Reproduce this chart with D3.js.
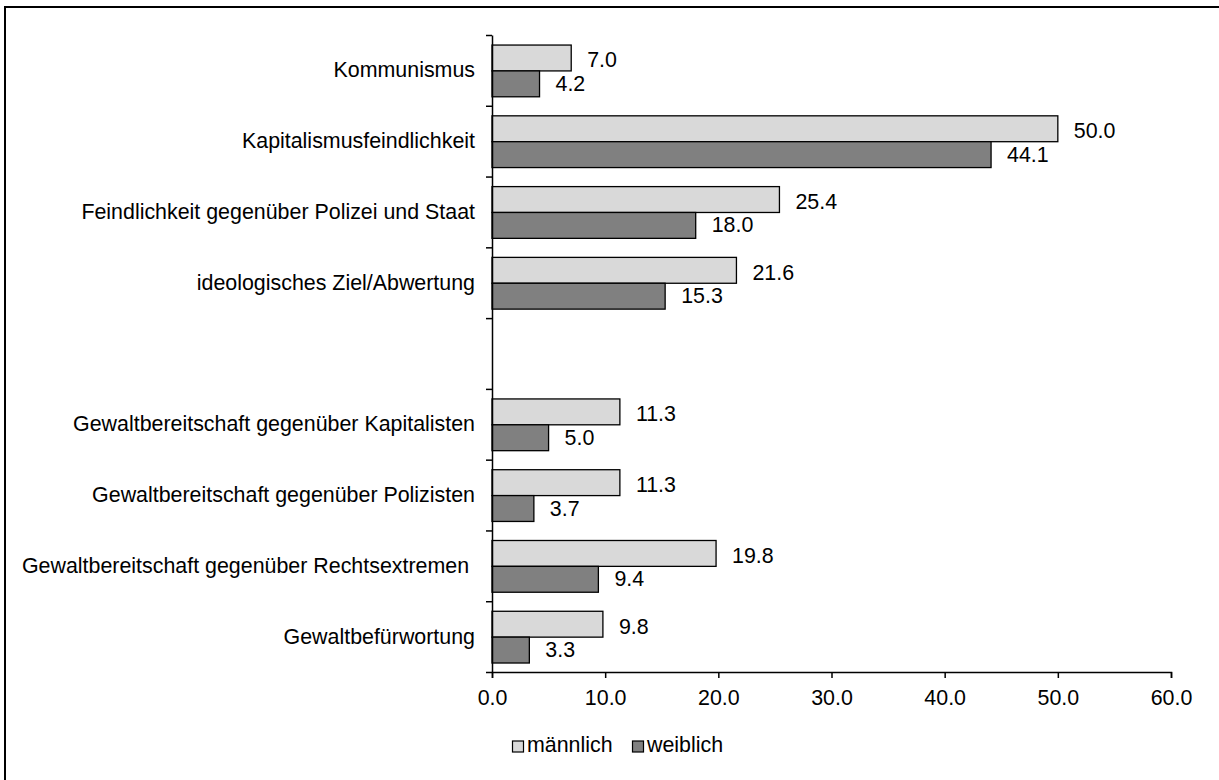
<!DOCTYPE html>
<html><head><meta charset="utf-8">
<script src="https://cdn.jsdelivr.net/npm/d3@7"></script>
<style>
html,body{margin:0;padding:0;background:#fff;}
svg{display:block;font-family:Arial,"Liberation Sans",sans-serif;}
</style></head>
<body>
<svg id="chart" width="1219" height="780"></svg>
<script>
const categories = ["Kommunismus","Kapitalismusfeindlichkeit","Feindlichkeit gegenüber Polizei und Staat","ideologisches Ziel/Abwertung","","Gewaltbereitschaft gegenüber Kapitalisten","Gewaltbereitschaft gegenüber Polizisten","Gewaltbereitschaft gegenüber Rechtsextremen ","Gewaltbefürwortung"];
const maleValues = [7.0, 50.0, 25.4, 21.6, null, 11.3, 11.3, 19.8, 9.8];
const femaleValues = [4.2, 44.1, 18.0, 15.3, null, 5.0, 3.7, 9.4, 3.3];
const seriesNames = ["männlich","weiblich"];
const xTicks = [0,10,20,30,40,50,60];

const FS = 21.4;
const svg = d3.select("#chart");
const colors = {"männlich":"#d9d9d9","weiblich":"#808080"};

// outer frame (extends past the picture right and bottom)
svg.append("rect").attr("x",5).attr("y",7).attr("width",1240).attr("height",800)
  .attr("fill","none").attr("stroke","#000").attr("stroke-width",2);

const x0 = 492, x1 = 1171, yTop = 35, yBot = 672;
const x = d3.scaleLinear().domain([0,60]).range([x0,x1]);
const y = d3.scaleBand().domain(categories.map((c,i)=>i)).range([yTop,yBot]).padding(0);
const bw = y.bandwidth();
const sub = d3.scaleBand().domain(seriesNames).range([bw*0.142, bw*0.873]).padding(0);

const data = categories.map((c,i)=>({cat:c,i, vals:[{s:"männlich",v:maleValues[i]},{s:"weiblich",v:femaleValues[i]}]}));

const g = svg.append("g");
const groups = g.selectAll("g.cat").data(data).join("g").attr("class","cat")
  .attr("transform",d=>`translate(0,${y(d.i)})`);

groups.selectAll("rect").data(d=>d.vals.filter(e=>e.v!=null)).join("rect")
  .attr("x",x(0)).attr("y",d=>sub(d.s)).attr("width",d=>x(d.v)-x(0))
  .attr("height",sub.bandwidth()).attr("fill",d=>colors[d.s])
  .attr("stroke","#000").attr("stroke-width",1.3);

groups.selectAll("text.val").data(d=>d.vals.filter(e=>e.v!=null)).join("text").attr("class","val")
  .attr("x",d=>x(d.v)+16).attr("y",d=>sub(d.s)+sub.bandwidth()/2 + (d.s==="männlich"?2.5:0))
  .attr("dominant-baseline","central").attr("font-size",FS).attr("fill","#000")
  .text(d=>d3.format(".1f")(d.v));

groups.append("text").attr("x",475).attr("y",bw/2).attr("text-anchor","end")
  .attr("dominant-baseline","central").attr("font-size",FS).style("white-space","pre")
  .text(d=>d.cat);

// x axis
const xAxis = d3.axisBottom(x).tickValues(xTicks).tickSize(6).tickSizeOuter(6).tickFormat(d3.format(".1f"));
const xg = svg.append("g").attr("transform",`translate(0,${yBot})`).call(xAxis);
xg.select(".domain").attr("stroke","#000").attr("stroke-width",1.5);
xg.selectAll(".tick line").attr("stroke","#000").attr("stroke-width",1.5);
xg.selectAll(".tick text").attr("font-size",FS).attr("font-family","Arial,'Liberation Sans',sans-serif")
  .attr("fill","#000").attr("y",33).attr("dy","0");

// y axis with ticks at category boundaries
const yb = d3.scaleLinear().domain([0,categories.length]).range([yTop,yBot]);
const yAxis = d3.axisLeft(yb).ticks(categories.length).tickSize(6).tickSizeOuter(0).tickFormat("");
const yg = svg.append("g").attr("transform",`translate(${x0},0)`).call(yAxis);
yg.select(".domain").attr("stroke","#000").attr("stroke-width",1.5);
yg.selectAll(".tick line").attr("stroke","#000").attr("stroke-width",1.5);

// legend
const legend = svg.append("g").attr("transform","translate(512,752)");
const items = [{s:"männlich",x:0},{s:"weiblich",x:120}];
items.forEach(it=>{
  legend.append("rect").attr("x",it.x+0.5).attr("y",-11).attr("width",11).attr("height",11)
    .attr("fill",colors[it.s]).attr("stroke","#000").attr("stroke-width",1.2);
  legend.append("text").attr("x",it.x+15).attr("y",0)
    .attr("font-size",FS).text(it.s);
});
</script>
</body></html>
